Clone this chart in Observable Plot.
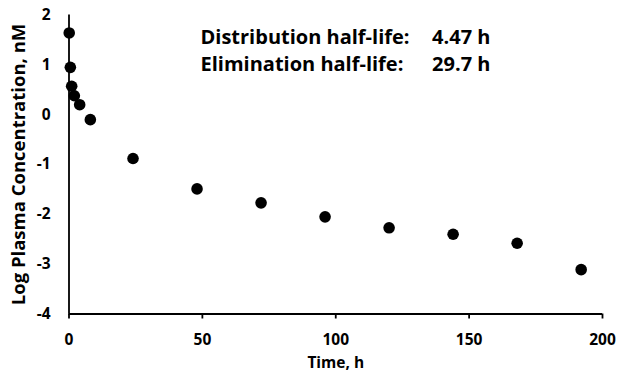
<!DOCTYPE html>
<html><head><meta charset="utf-8">
<script src="https://cdn.jsdelivr.net/npm/d3@7"></script>
<script src="https://cdn.jsdelivr.net/npm/@observablehq/plot@0.6"></script>
<style>
html,body{margin:0;padding:0;background:#fff;}
</style>
</head><body>
<div id="chart"></div>
<script>
const times = [0.083, 0.5, 1, 2, 4, 8, 24, 48, 72, 96, 120, 144, 168, 192];
const logConc = [1.64, 0.95, 0.57, 0.38, 0.2, -0.1, -0.88, -1.49, -1.77, -2.05, -2.27, -2.4, -2.58, -3.11];
const xTicks = [0, 50, 100, 150, 200];
const yTicks = [-4, -3, -2, -1, 0, 1, 2];
const annLabels = ["Distribution half-life:", "Elimination half-life:"];
const annValues = ["4.47 h", "29.7 h"];
const annY = [1.55, 1.0];
const annX = 49.3;
const annValX = 158;

const data = times.map((t, i) => ({t, c: logConc[i]}));
const ann = annLabels.map((l, i) => ({label: l, value: annValues[i], y: annY[i]}));

const font = "'Open Sans', Lato, sans-serif";
const fmt = d => String(d);
const chart = Plot.plot({
  width: 619, height: 378,
  marginLeft: 68.5, marginRight: 17, marginTop: 14.5, marginBottom: 64.5,
  style: {fontFamily: font, fontWeight: "bold", fontSize: "14px", color: "#000", background: "#fff"},
  x: {domain: [0, 200]},
  y: {domain: [-4, 2]},
  marks: [
    Plot.axisX({ticks: xTicks, tickFormat: fmt, tickSize: 5, tickPadding: 15, strokeWidth: 1.8, label: null, fontWeight: "bold", fontSize: 15.5}),
    Plot.axisY({ticks: yTicks, tickFormat: fmt, tickSize: 0, tickPadding: 18.5, label: null, fontWeight: "bold", fontSize: 15.5}),
    Plot.ruleX([0], {stroke: "#000", strokeWidth: 1.8}),
    Plot.ruleY([-4], {stroke: "#000", strokeWidth: 1.8}),
    Plot.dot(data, {x: "t", y: "c", r: 5.8, fill: "#000", stroke: "none"}),
    Plot.text(ann, {x: annX, y: "y", text: "label", textAnchor: "start", fontSize: 20, fontWeight: "bold", fill: "#000"}),
    Plot.text(ann, {x: annValX, y: "y", text: "value", textAnchor: "end", fontSize: 20, fontWeight: "bold", fill: "#000"}),
    Plot.text(["Time, h"], {frameAnchor: "bottom", dy: 54, fontSize: 15.5, fontWeight: "bold", fill: "#000"}),
    Plot.text(["Log Plasma Concentration, nM"], {frameAnchor: "left", textAnchor: "middle", dx: -49.5, rotate: -90, fontSize: 18.5, fontWeight: "bold", fill: "#000"})
  ]
});
document.getElementById("chart").appendChild(chart);
</script>
</body></html>
